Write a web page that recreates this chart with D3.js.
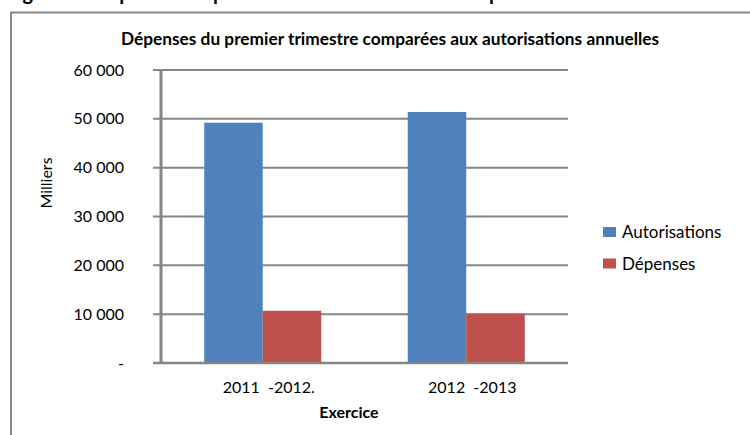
<!DOCTYPE html>
<html>
<head>
<meta charset="utf-8">
<script src="https://cdn.jsdelivr.net/npm/d3@7"></script>
<style>
  body { margin: 0; background: #fff; }
  svg { display: block; font-family: Lato, "Open Sans", sans-serif; }
  text { white-space: pre; }
</style>
</head>
<body>
<svg id="chart" width="750" height="435"></svg>
<script>
const categories = ["2011  -2012.", "2012  -2013"];
const seriesNames = ["Autorisations", "Dépenses"];
const autorisations = [49200, 51400];
const depenses = [10700, 10100];
const yTicks = [0, 10000, 20000, 30000, 40000, 50000, 60000];

const COLORS = ["#4F81BD", "#C0504D"];
const GRID = "#868686";

const PLOT = { left: 161, right: 568, top: 70, bottom: 363 };

const svg = d3.select("#chart");

// caption of the document, cut off by the crop
svg
  .append("text")
  .attr("x", 6)
  .attr("y", 0)
  .attr("font-weight", "bold")
  .attr("font-size", 20)
  .text("Figure 1 : Dépenses du premier trimestre de 2013 comparées aux autorisations");

// chart frame
svg
  .append("rect")
  .attr("x", 11)
  .attr("y", 12.5)
  .attr("width", 800)
  .attr("height", 500)
  .attr("fill", "#fff")
  .attr("stroke", GRID)
  .attr("stroke-width", 2);

svg
  .append("text")
  .attr("x", 390)
  .attr("y", 45)
  .attr("text-anchor", "middle")
  .attr("font-weight", "bold")
  .attr("font-size", 17.3)
  .text("Dépenses du premier trimestre comparées aux autorisations annuelles");

const yScale = d3
  .scaleLinear()
  .domain([0, 60000])
  .range([PLOT.bottom, PLOT.top]);

const xScale = d3
  .scaleBand()
  .domain(categories)
  .range([PLOT.left, PLOT.right])
  .paddingInner(0.425)
  .paddingOuter(0.2125);

const inner = d3
  .scaleBand()
  .domain(seriesNames)
  .range([0, xScale.bandwidth()]);

const locale = d3.formatLocale({ decimal: ",", thousands: " ", grouping: [3] });
const fmt = locale.format(",");

// grid lines
svg
  .append("g")
  .selectAll("line")
  .data(yTicks)
  .join("line")
  .attr("x1", PLOT.left - 8)
  .attr("x2", PLOT.right)
  .attr("y1", (d) => yScale(d))
  .attr("y2", (d) => yScale(d))
  .attr("stroke", GRID)
  .attr("stroke-width", 2);

const yAxis = d3
  .axisLeft(yScale)
  .tickValues(yTicks)
  .tickSize(0)
  .tickPadding(37)
  .tickFormat((d) => (d === 0 ? "-" : fmt(d)));

svg
  .append("g")
  .attr("transform", `translate(${PLOT.left},0)`)
  .call(yAxis)
  .call((g) => g.select(".domain").remove())
  .call((g) =>
    g
      .selectAll("text")
      .attr("font-family", "Lato, sans-serif")
      .attr("font-size", 16)
      .attr("fill", "#000")
  );

// bars
const data = categories.map((c, i) => ({
  category: c,
  values: [autorisations[i], depenses[i]],
}));

svg
  .append("g")
  .selectAll("g")
  .data(data)
  .join("g")
  .attr("transform", (d) => `translate(${xScale(d.category)},0)`)
  .selectAll("rect")
  .data((d) => d.values.map((v, j) => ({ name: seriesNames[j], value: v, j })))
  .join("rect")
  .attr("x", (d) => inner(d.name))
  .attr("width", inner.bandwidth())
  .attr("y", (d) => yScale(d.value))
  .attr("height", (d) => yScale(0) - yScale(d.value))
  .attr("fill", (d) => COLORS[d.j]);

// axis lines
svg
  .append("line")
  .attr("x1", PLOT.left)
  .attr("x2", PLOT.left)
  .attr("y1", PLOT.top)
  .attr("y2", PLOT.bottom)
  .attr("stroke", GRID)
  .attr("stroke-width", 3);

svg
  .append("line")
  .attr("x1", PLOT.left - 8)
  .attr("x2", PLOT.right)
  .attr("y1", PLOT.bottom)
  .attr("y2", PLOT.bottom)
  .attr("stroke", GRID)
  .attr("stroke-width", 2.5);

// category labels
svg
  .append("g")
  .selectAll("text")
  .data(categories)
  .join("text")
  .attr("x", (d) => xScale(d) + xScale.bandwidth() / 2 + 6)
  .attr("y", 393)
  .attr("text-anchor", "middle")
  .attr("font-size", 16)
  .text((d) => d);

svg
  .append("text")
  .attr("x", 349)
  .attr("y", 418)
  .attr("text-anchor", "middle")
  .attr("font-weight", "bold")
  .attr("font-size", 16)
  .text("Exercice");

svg
  .append("text")
  .attr("transform", "translate(52,183) rotate(-90)")
  .attr("text-anchor", "middle")
  .attr("font-size", 16)
  .text("Milliers");

// legend
const legend = svg
  .append("g")
  .selectAll("g")
  .data(seriesNames)
  .join("g")
  .attr("transform", (d, i) => `translate(603,${227 + i * 31.5})`);

legend
  .append("rect")
  .attr("width", 13)
  .attr("height", 10)
  .attr("fill", (d, i) => COLORS[i]);

legend
  .append("text")
  .attr("x", 19)
  .attr("y", 11)
  .attr("font-size", 17)
  .text((d) => d);
</script>
</body>
</html>
